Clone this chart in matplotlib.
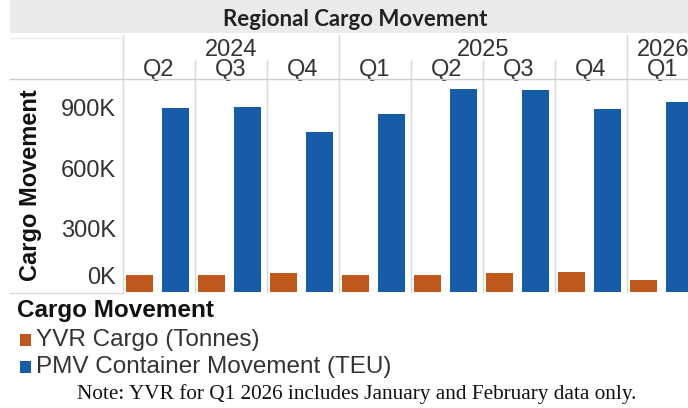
import matplotlib
matplotlib.use("Agg")
import matplotlib.pyplot as plt
import matplotlib.transforms as mtransforms
from matplotlib.lines import Line2D
from matplotlib.patches import Rectangle

W, H = 688, 408

years = ["2024", "2025", "2026"]
quarters = ["Q2", "Q3", "Q4", "Q1", "Q2", "Q3", "Q4", "Q1"]
year_of_quarter = ["2024", "2024", "2024", "2025", "2025", "2025", "2025", "2026"]
yvr_cargo = [84000, 84000, 96000, 84000, 84000, 93000, 100000, 59000]
pmv_teu = [912000, 917000, 794000, 880000, 1005000, 1000000, 907000, 939000]
series_names = ["YVR Cargo (Tonnes)", "PMV Container Movement (TEU)"]
ytick_vals = [0, 300000, 600000, 900000]
ytick_labels = ["0K", "300K", "600K", "900K"]

ORANGE = "#c2591c"
BLUE = "#165ca7"
GRID = "#d9d9d9"
TXT = "#333333"
SANS = ["Liberation Sans", "DejaVu Sans"]


def fx(px):
    return px / W


def fy(py):
    return 1 - py / H


fig = plt.figure(figsize=(W / 100, H / 100), dpi=100)
fig.patch.set_facecolor("white")

# title band
fig.add_artist(Rectangle((fx(10), fy(33)), fx(688) - fx(10), fy(0) - fy(33),
                         transform=fig.transFigure, facecolor="#ebebeb",
                         edgecolor="none", zorder=0))
fig.text(fx(355), fy(20), "Regional Cargo Movement", ha="center", va="center",
         fontsize=16, fontweight="bold", family=["Lato", "DejaVu Sans"], color="#222222")

# main axes: 8 quarter panels, the last one runs past the right edge
ax = fig.add_axes([fx(123), fy(292), (699 - 123) / W, (292 - 80) / H])
ax.set_xlim(0, len(quarters))
ax.set_ylim(0, 1050000)
for s in ax.spines.values():
    s.set_visible(False)
ax.set_xticks([])
ax.set_yticks([])

x = list(range(len(quarters)))
bw = 0.375
ax.bar([i + 0.23 for i in x], yvr_cargo, width=bw, color=ORANGE, zorder=3)
ax.bar([i + 0.73 for i in x], pmv_teu, width=bw, color=BLUE, zorder=3)

# panel separators, longer ones at year boundaries
bt = mtransforms.blended_transform_factory(ax.transData, ax.transAxes)
for i in range(len(quarters) + 1):
    new_year = i == 0 or (i < len(quarters) and year_of_quarter[i] != year_of_quarter[i - 1])
    top = 1.212 if new_year else 1.094
    ax.plot([i, i], [0, top], color=GRID, lw=1, transform=bt, clip_on=False, zorder=1)

# header lines
fig.add_artist(Line2D([fx(10), fx(688)], [fy(79), fy(79)], transform=fig.transFigure,
                      color="#cfcfcf", lw=1))
fig.add_artist(Line2D([fx(10), fx(123)], [fy(38), fy(38)], transform=fig.transFigure,
                      color="#ececec", lw=1))
fig.add_artist(Line2D([fx(10), fx(123)], [fy(293), fy(293)], transform=fig.transFigure,
                      color="#d9d9d9", lw=1))

# quarter and year labels
for i, q in enumerate(quarters):
    ax.text(i + 0.5, 1.045, q, transform=bt, ha="center", va="center",
            fontsize=17, family=SANS, color=TXT)
for yr in years:
    idx = [i for i, y in enumerate(year_of_quarter) if y == yr]
    cx = (idx[0] + idx[-1] + 1) / 2
    ax.text(cx, 1.14, yr, transform=bt, ha="center", va="center",
            fontsize=17, family=SANS, color=TXT)

# y tick labels (0K nudged up like the original)
yt = mtransforms.blended_transform_factory(ax.transAxes, ax.transData)
for v, lab in zip(ytick_vals, ytick_labels):
    dy = 10 if v == 0 else 0
    ax.annotate(lab, xy=(0, v), xycoords=yt, xytext=(-5, dy), textcoords="offset points",
                ha="right", va="center", fontsize=17, family=SANS, color=TXT)

fig.text(fx(31), fy(185), "Cargo Movement", rotation=90, ha="center", va="center",
         fontsize=17, fontweight="bold", family=SANS, color="#111111")

# legend
fig.text(fx(17), fy(311), "Cargo Movement", ha="left", va="center",
         fontsize=17.5, fontweight="bold", family=SANS, color="#111111")
for k, (name, col) in enumerate(zip(series_names, [ORANGE, BLUE])):
    yc = 340 + k * 27
    fig.add_artist(Rectangle((fx(20), fy(yc + 6)), fx(11), 12 / H, transform=fig.transFigure,
                             facecolor=col, edgecolor="none"))
    fig.text(fx(36), fy(yc), name, ha="left", va="center",
             fontsize=17.5, family=SANS, color=TXT)

fig.text(fx(357), fy(394), "Note: YVR for Q1 2026 includes January and February data only.",
         ha="center", va="center", fontsize=15.3, family=["Liberation Serif", "DejaVu Serif"],
         color="#111111")

fig.savefig("out.png", dpi=100)
